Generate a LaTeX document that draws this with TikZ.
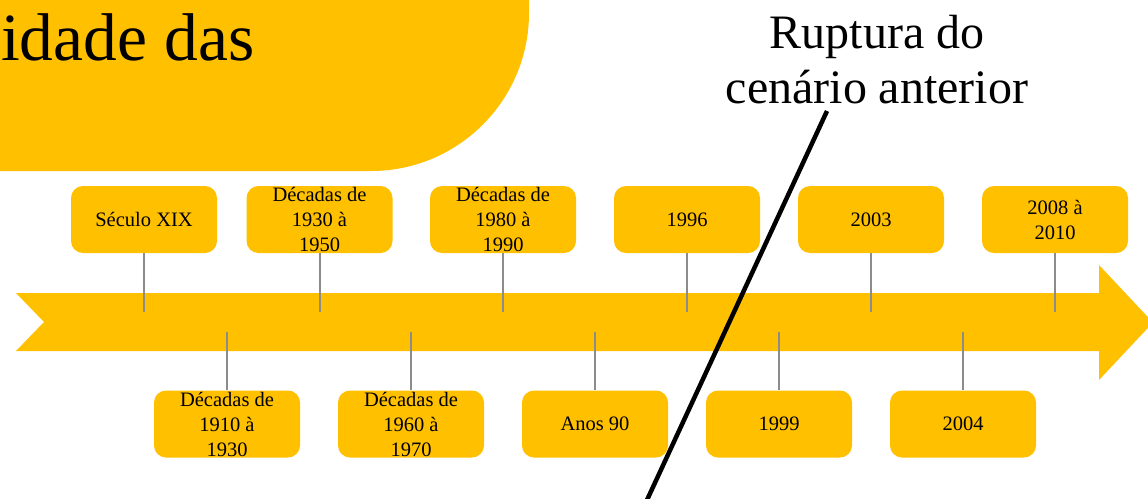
\documentclass[tikz,border=0pt]{standalone}
\usepackage{fontspec}
\setmainfont{Liberation Serif}
\definecolor{ylw}{HTML}{FFC000}
\definecolor{tickgray}{HTML}{8C8C8C}
\begin{document}
\begin{tikzpicture}[x=1pt,y=-1pt,
  evt/.style={fill=ylw, rounded corners=12pt, minimum width=146pt, minimum height=67pt,
    inner sep=0pt, align=center, font=\fontsize{20.5}{25}\selectfont},
  tk/.style={draw=tickgray, line width=2pt},
  rupt/.style={draw=black, line width=4.5pt}]
\useasboundingbox (0,0) rectangle (1148,498);
\clip (0,0) rectangle (1148,498);
% title blob
\fill[ylw, rounded corners=158pt] (-300,-300) -- (529,-300) -- (529,171) -- (-300,171) -- cycle;
\node[anchor=base west, inner sep=0pt, font=\fontsize{67.5}{70}\selectfont] (title) at (1,60) {idade das};
% arrow
\fill[ylw] (16,293) -- (1099,293) -- (1099,265) -- (1153,322.5) -- (1099,380) -- (1099,351) -- (16,351) -- (44,322) -- cycle;
% top events
\node[evt] (t1) at (144,219.5) {Século XIX};
\node[evt] (t2) at (319.5,219.5) {Décadas de\\1930 à\\1950};
\node[evt] (t3) at (503,219.5) {Décadas de\\1980 à\\1990};
\node[evt] (t4) at (687,219.5) {1996};
\node[evt] (t5) at (871,219.5) {2003};
\node[evt] (t6) at (1055,219.5) {2008 à\\2010};
% bottom events
\node[evt] (b1) at (227,424) {Décadas de\\1910 à\\1930};
\node[evt] (b2) at (411,424) {Décadas de\\1960 à\\1970};
\node[evt] (b3) at (595,424) {Anos 90};
\node[evt] (b4) at (779,424) {1999};
\node[evt] (b5) at (963,424) {2004};
% tick ends
\coordinate (ct1) at (144,312);
\coordinate (ct2) at (319.5,312);
\coordinate (ct3) at (503,312);
\coordinate (ct4) at (687,312);
\coordinate (ct5) at (871,312);
\coordinate (ct6) at (1055,312);
\coordinate (cb1) at (227,332);
\coordinate (cb2) at (411,332);
\coordinate (cb3) at (595,332);
\coordinate (cb4) at (779,332);
\coordinate (cb5) at (963,332);
\foreach \i in {1,...,6} {\draw[tk] (t\i.south) -- (ct\i);}
\foreach \i in {1,...,5} {\draw[tk] (cb\i) -- (b\i.north);}
% rupture
\node[anchor=north, inner sep=0pt, align=center, font=\fontsize{48}{55}\selectfont] (rup) at (877,15) {Ruptura do\\cenário anterior};
\coordinate (r1) at (827,111);
\coordinate (r2) at (647,500);
\draw[rupt] (r1) -- (r2);
\end{tikzpicture}
\end{document}
